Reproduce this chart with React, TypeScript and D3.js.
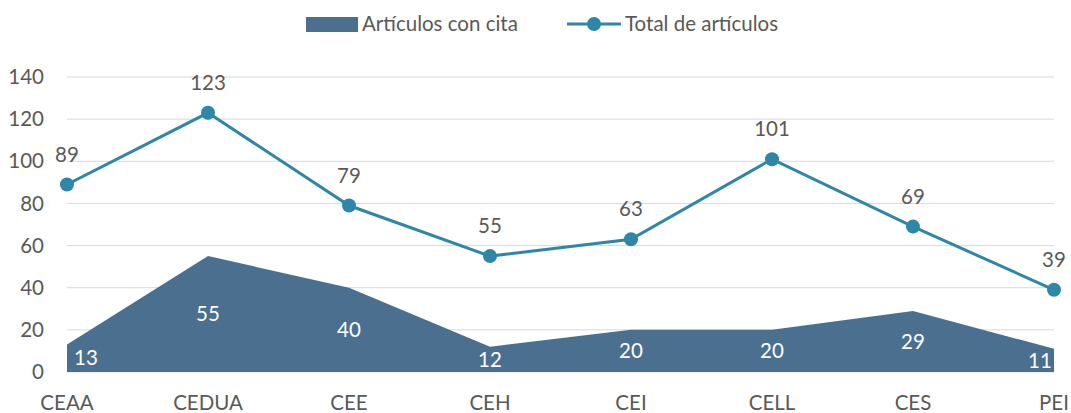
import React, { useRef, useEffect } from "react";
import * as d3 from "d3";

const categories = ["CEAA", "CEDUA", "CEE", "CEH", "CEI", "CELL", "CES", "PEI"];
const conCita = [13, 55, 40, 12, 20, 20, 29, 11];
const total = [89, 123, 79, 55, 63, 101, 69, 39];
const yTicks = [0, 20, 40, 60, 80, 100, 120, 140];

const W = 1071;
const H = 413;
const AREA_COLOR = "#4a6f8f";
const LINE_COLOR = "#2e86a8";
const TEXT_COLOR = "#595959";
const FONT = "Lato, 'Open Sans', sans-serif";
const FS = 20.5;

const App: React.FC = () => {
  const svgRef = useRef<SVGSVGElement>(null);

  useEffect(() => {
    if (!svgRef.current) return;
    const svg = d3.select(svgRef.current);
    svg.selectAll("*").remove();

    const x = d3.scalePoint<string>().domain(categories).range([67, 1054]);
    const y = d3.scaleLinear().domain([0, 140]).range([372, 77]);

    // grid
    svg.append("g")
      .selectAll("line")
      .data(yTicks)
      .join("line")
      .attr("x1", 67)
      .attr("x2", 1054)
      .attr("y1", (d) => y(d))
      .attr("y2", (d) => y(d))
      .attr("stroke", "#d9d9d9")
      .attr("stroke-width", 1);

    // y tick labels
    svg.append("g")
      .selectAll("text")
      .data(yTicks)
      .join("text")
      .attr("x", 44)
      .attr("y", (d) => y(d))
      .attr("dy", "0.35em")
      .attr("text-anchor", "end")
      .attr("font-family", FONT)
      .attr("font-size", FS)
      .attr("fill", TEXT_COLOR)
      .text((d) => d);

    // x labels
    svg.append("g")
      .selectAll("text")
      .data(categories)
      .join("text")
      .attr("x", (d) => x(d) as number)
      .attr("y", 410)
      .attr("text-anchor", "middle")
      .attr("font-family", FONT)
      .attr("font-size", FS)
      .attr("fill", TEXT_COLOR)
      .text((d) => d);

    // area
    const area = d3
      .area<number>()
      .x((_, i) => x(categories[i]) as number)
      .y0(y(0))
      .y1((d) => y(d));
    svg.append("path").datum(conCita).attr("d", area).attr("fill", AREA_COLOR);

    // area labels
    svg.append("g")
      .selectAll("text")
      .data(conCita)
      .join("text")
      .attr("x", (_, i) => {
        const px = x(categories[i]) as number;
        return Math.min(Math.max(px, 86), 1040);
      })
      .attr("y", (d) => (y(d) + y(0)) / 2)
      .attr("dy", "0.35em")
      .attr("text-anchor", "middle")
      .attr("font-family", FONT)
      .attr("font-size", FS)
      .attr("fill", "#ffffff")
      .text((d) => d);

    // line
    const line = d3
      .line<number>()
      .x((_, i) => x(categories[i]) as number)
      .y((d) => y(d));
    svg.append("path")
      .datum(total)
      .attr("d", line)
      .attr("fill", "none")
      .attr("stroke", LINE_COLOR)
      .attr("stroke-width", 3);

    svg.append("g")
      .selectAll("circle")
      .data(total)
      .join("circle")
      .attr("cx", (_, i) => x(categories[i]) as number)
      .attr("cy", (d) => y(d))
      .attr("r", 7)
      .attr("fill", LINE_COLOR);

    svg.append("g")
      .selectAll("text")
      .data(total)
      .join("text")
      .attr("x", (_, i) => x(categories[i]) as number)
      .attr("y", (d) => y(d) - 30)
      .attr("dy", "0.35em")
      .attr("text-anchor", "middle")
      .attr("font-family", FONT)
      .attr("font-size", FS)
      .attr("fill", TEXT_COLOR)
      .text((d) => d);

    // legend
    const lg = svg.append("g");
    lg.append("rect").attr("x", 306).attr("y", 17).attr("width", 52).attr("height", 15).attr("fill", AREA_COLOR);
    lg.append("text")
      .attr("x", 362)
      .attr("y", 24)
      .attr("dy", "0.35em")
      .attr("font-family", FONT)
      .attr("font-size", FS)
      .attr("fill", TEXT_COLOR)
      .text("Artículos con cita");
    lg.append("line")
      .attr("x1", 567)
      .attr("x2", 621)
      .attr("y1", 24)
      .attr("y2", 24)
      .attr("stroke", LINE_COLOR)
      .attr("stroke-width", 3);
    lg.append("circle").attr("cx", 594).attr("cy", 24).attr("r", 7).attr("fill", LINE_COLOR);
    lg.append("text")
      .attr("x", 625)
      .attr("y", 24)
      .attr("dy", "0.35em")
      .attr("font-family", FONT)
      .attr("font-size", FS)
      .attr("fill", TEXT_COLOR)
      .text("Total de artículos");

    return () => {
      svg.selectAll("*").remove();
    };
  }, []);

  return (
    <svg
      ref={svgRef}
      width={W}
      height={H}
      style={{ position: "absolute", left: 0, top: 0, background: "#fff" }}
    ></svg>
  );
};

export default App;
